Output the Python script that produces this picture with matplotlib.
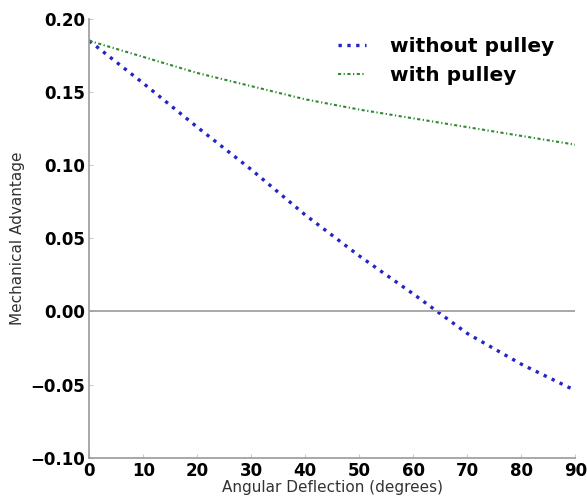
import matplotlib
matplotlib.use("Agg")
import matplotlib.pyplot as plt
import numpy as np

# angular deflection (degrees) and mechanical advantage
angle = [0, 10, 20, 30, 40, 50, 60, 70, 80, 90]
without_pulley = [0.185, 0.156, 0.126, 0.097, 0.066, 0.038, 0.012, -0.015, -0.036, -0.054]
with_pulley = [0.185, 0.174, 0.163, 0.154, 0.145, 0.138, 0.132, 0.126, 0.120, 0.114]

fig = plt.figure(figsize=(5.87, 4.96), dpi=100)
ax = fig.add_axes([0.152, 0.077, 0.828, 0.885])

ax.plot(angle, without_pulley, color='#2424c8', linestyle=':', linewidth=2.4,
        label='without pulley')
ax.plot(angle, with_pulley, color='#2f8a2f', linestyle='-.', linewidth=1.5,
        dashes=(1.5, 1.2, 0.6, 1.2), label='with pulley')
ax.axhline(0, color='#999999', linewidth=1.2)

ax.set_xlim(0, 90)
ax.set_ylim(-0.10, 0.20)
ax.set_xticks(np.arange(0, 91, 10))
ax.set_yticks(np.arange(-0.10, 0.201, 0.05))
ax.set_yticklabels(['\u22120.10', '\u22120.05', '0.00', '0.05', '0.10', '0.15', '0.20'])

for side in ['top', 'right']:
    ax.spines[side].set_visible(False)
for side in ['left', 'bottom']:
    ax.spines[side].set_color('#999999')
    ax.spines[side].set_linewidth(1.2)

ax.tick_params(direction='in', length=3, color='#cccccc', labelsize=12, pad=3)
for lab in ax.get_xticklabels() + ax.get_yticklabels():
    lab.set_fontweight('bold')

ax.set_xlabel('Angular Deflection (degrees)', fontsize=11, labelpad=0, color='#333333')
ax.set_ylabel('Mechanical Advantage', fontsize=11, labelpad=4, color='#333333')

leg = ax.legend(loc='upper right', frameon=False, prop={'weight': 'bold', 'size': 14.5},
                handlelength=1.4, handletextpad=1.2, borderaxespad=0.5, labelspacing=0.5,
                bbox_to_anchor=(0.995, 1.0))

fig.savefig('out.png', dpi=100)
